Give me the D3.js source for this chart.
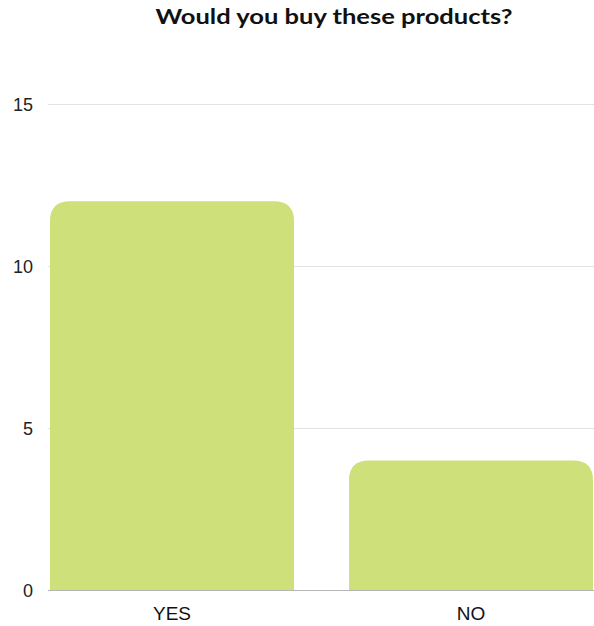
<!DOCTYPE html>
<html>
<head>
<meta charset="utf-8">
<script src="https://cdn.jsdelivr.net/npm/d3@7"></script>
<style>
  html, body { margin: 0; padding: 0; background: #fff; }
  svg { display: block; }
</style>
</head>
<body>
<svg id="chart" width="594" height="626"></svg>
<script>
// Survey answers
const categories = ["YES", "NO"];
const counts = [12, 4];
const yTicks = [0, 5, 10, 15];
const title = "Would you buy these products?";

const svg = d3.select("#chart");

const y = d3.scaleLinear().domain([0, 15]).range([590, 104]);
const x = d3.scaleBand().domain(categories).range([50, 593]).paddingInner(0.184).paddingOuter(0);

// Title
svg.append("text")
  .attr("x", 334).attr("y", 24)
  .attr("text-anchor", "middle")
  .attr("font-family", "Lato, 'Open Sans', sans-serif")
  .attr("font-weight", "bold")
  .attr("font-size", 21.5)
  .attr("textLength", 357)
  .attr("lengthAdjust", "spacingAndGlyphs")
  .attr("fill", "#111")
  .text(title);

// Horizontal gridlines
svg.append("g").selectAll("line")
  .data(yTicks.filter(d => d > 0))
  .join("line")
  .attr("x1", 48).attr("x2", 594)
  .attr("y1", d => y(d) + 0.5).attr("y2", d => y(d) + 0.5)
  .attr("stroke", "#e3e3e3").attr("stroke-width", 1);

// Y tick labels
svg.append("g").selectAll("text")
  .data(yTicks)
  .join("text")
  .attr("x", 33).attr("y", d => y(d) + 0.5)
  .attr("dy", "0.36em")
  .attr("text-anchor", "end")
  .attr("font-family", "'Liberation Sans', Arial, sans-serif")
  .attr("font-size", 18)
  .attr("fill", "#222")
  .text(d => d);

// Baseline
svg.append("line")
  .attr("x1", 48).attr("x2", 594)
  .attr("y1", y(0) + 0.5).attr("y2", y(0) + 0.5)
  .attr("stroke", "#b5b5b5").attr("stroke-width", 1);

// Bars with rounded top corners
const r = 20;
function barPath(x0, w, yTop, yBase) {
  const rr = Math.min(r, w / 2, yBase - yTop);
  return `M${x0},${yBase}V${yTop + rr}Q${x0},${yTop} ${x0 + rr},${yTop}` +
         `H${x0 + w - rr}Q${x0 + w},${yTop} ${x0 + w},${yTop + rr}V${yBase}Z`;
}
svg.append("g").selectAll("path")
  .data(categories.map((c, i) => ({ c, v: counts[i] })))
  .join("path")
  .attr("d", d => barPath(x(d.c), x.bandwidth(), y(d.v), y(0)))
  .attr("fill", "#cde07a");

// X labels
svg.append("g").selectAll("text")
  .data(categories)
  .join("text")
  .attr("x", d => x(d) + x.bandwidth() / 2)
  .attr("y", 620)
  .attr("text-anchor", "middle")
  .attr("font-family", "'Liberation Sans', Arial, sans-serif")
  .attr("font-size", 19)
  .attr("fill", "#111")
  .text(d => d);
</script>
</body>
</html>
